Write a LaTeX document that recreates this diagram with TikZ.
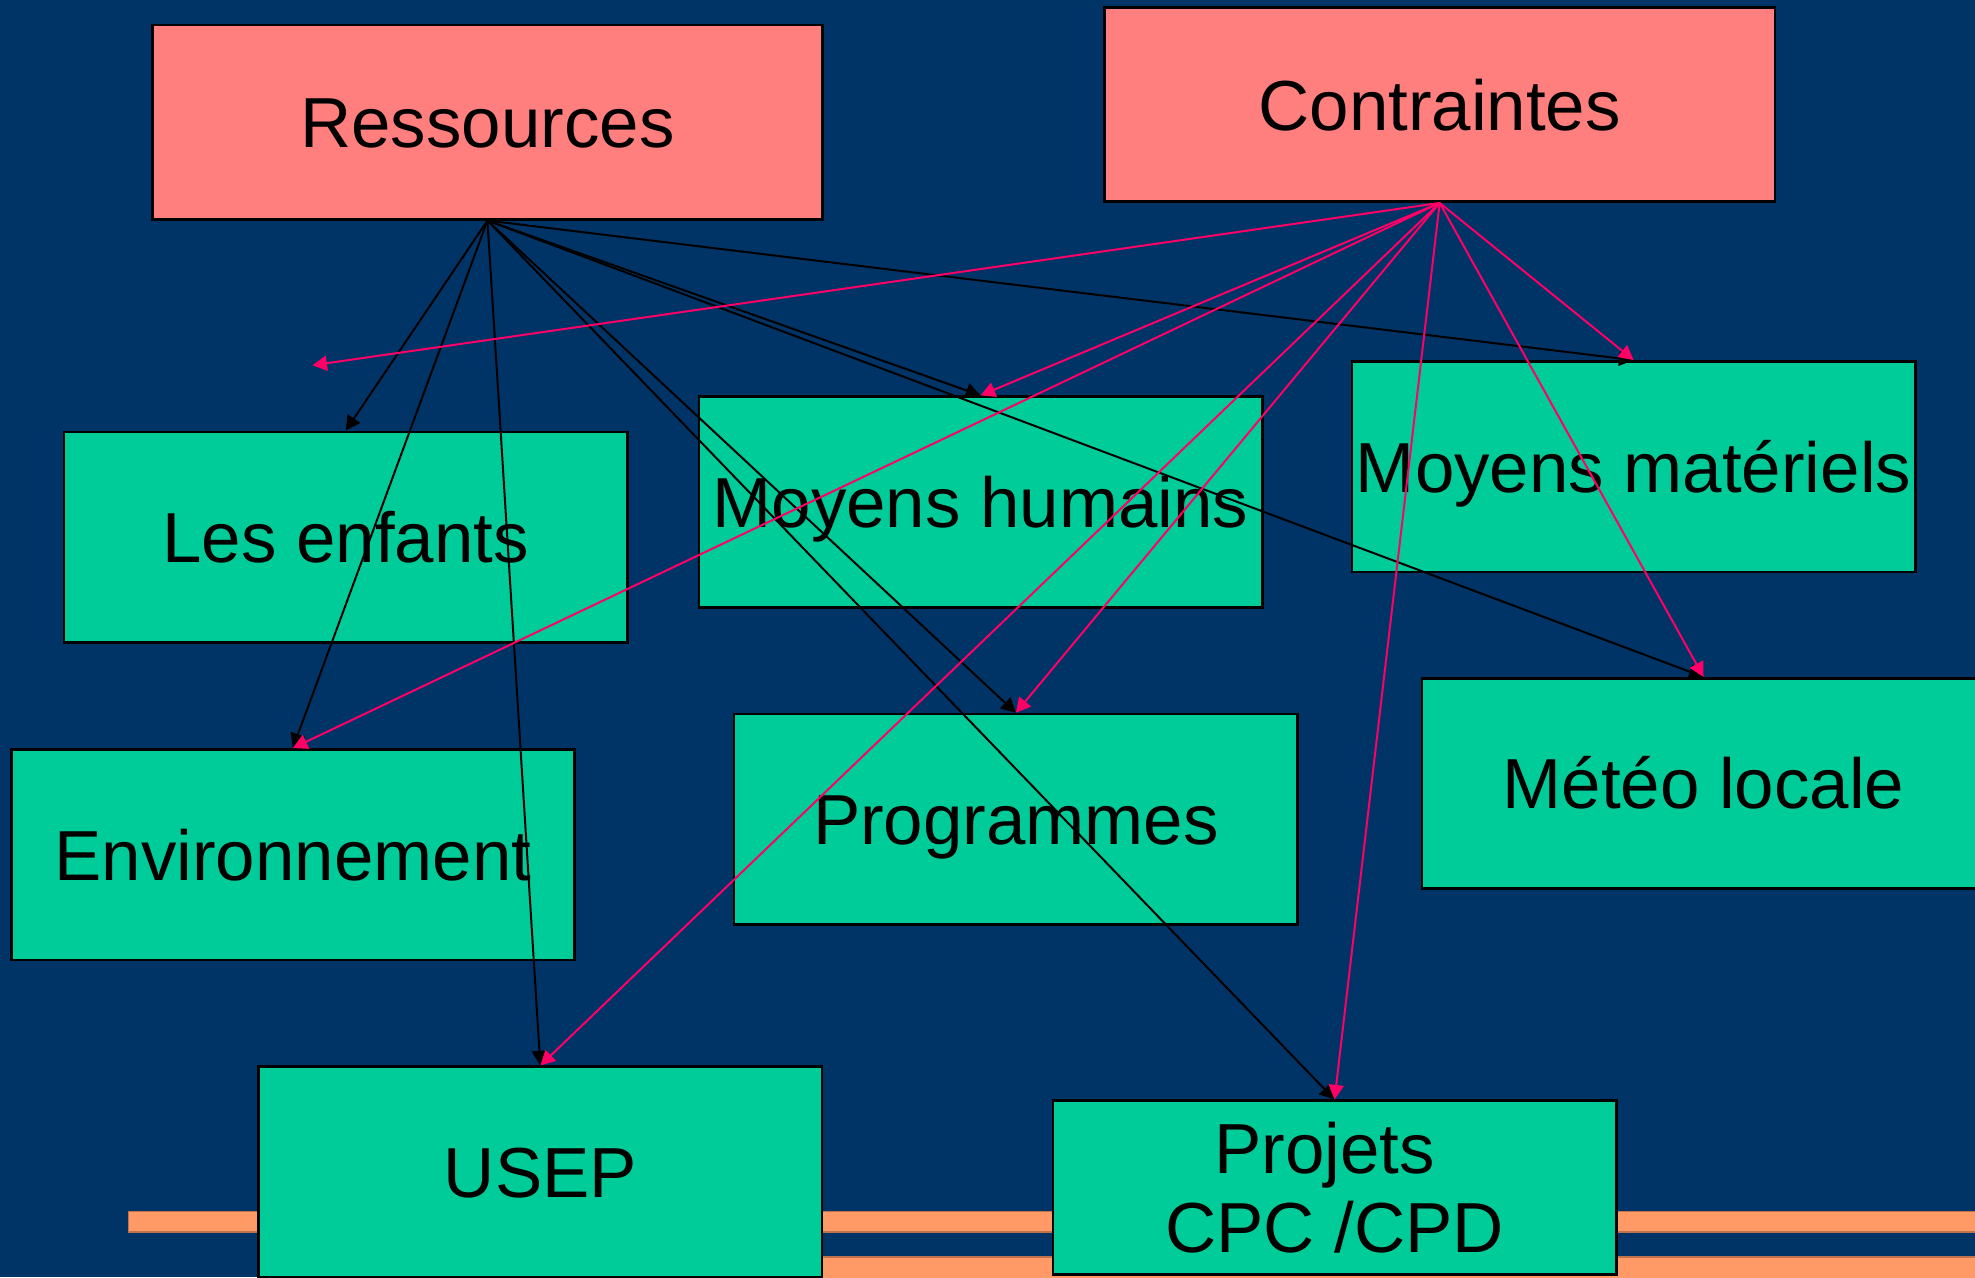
\documentclass[tikz,border=0pt]{standalone}
\usepackage{fontspec}
\setmainfont{Liberation Sans}
\usetikzlibrary{arrows.meta}
\definecolor{bgblue}{HTML}{003366}
\definecolor{boxpink}{HTML}{FF7F7F}
\definecolor{boxgreen}{HTML}{00CC99}
\definecolor{bandorange}{HTML}{FF9966}
\definecolor{arrowpink}{HTML}{FF0066}
\begin{document}
\begin{tikzpicture}[x=0.01cm,y=-0.01cm,
  boxfont/.style={font=\fontsize{16}{18}\selectfont},
  box/.style={draw=black, line width=0.6pt, minimum width=4.47cm, minimum height=1.67cm,
    inner sep=0pt, boxfont, text height=11.5pt, text depth=0pt, anchor=center},
  topbox/.style={box, fill=boxpink, minimum width=5.32cm, minimum height=1.54cm},
  greenbox/.style={box, fill=boxgreen},
  resarrow/.style={-{Triangle[length=3.3pt,width=3.4pt]}, line width=0.45pt, draw=black},
  conarrow/.style={resarrow, draw=arrowpink, fill=arrowpink},
  band/.style={fill=bandorange, draw=bandorange!75!black, line width=0.3pt}]
\useasboundingbox (0,0) rectangle (1568,1014);
\clip (0,0) rectangle (1568,1014);
\fill[bgblue] (0,0) rectangle (1568,1014);
% orange bands
\path[band] (102,962) rectangle (1600,978);
\path[band] (300,998) rectangle (1600,1030);
% boxes
\node[topbox] (res) at (387,97) {Ressources};
\node[topbox] (con) at (1143,83) {Contraintes};
\node[greenbox] (enf) at (274.5,426.5) {Les enfants};
\node[greenbox] (hum) at (778.5,398.5) {Moyens humains};
\node[greenbox] (mat) at (1297,370.5) {Moyens matériels};
\node[greenbox] (env) at (232.5,678.5) {Environnement};
\node[greenbox] (prog) at (806.5,650.5) {Programmes};
\node[greenbox] (meteo) at (1352.5,622) {Météo locale};
\node[greenbox] (usep) at (429,930.5) {USEP};
\node[greenbox, minimum height=1.38cm] (proj) at (1059.5,943) {};
\node[boxfont, inner sep=0pt, align=center, anchor=center] (projtext) at (proj.center) {Projets\kern0.28em\\CPC /CPD};
\coordinate (free) at (248,290);
% black arrows from Ressources
\draw[resarrow] (res.south) -- (enf.north);
\draw[resarrow] (res.south) -- (env.north);
\draw[resarrow] (res.south) -- (usep.north);
\draw[resarrow] (res.south) -- (prog.north);
\draw[resarrow] (res.south) -- (proj.north);
\draw[resarrow] (res.south) -- (hum.north);
\draw[resarrow] (res.south) -- (meteo.north);
\draw[resarrow] (res.south) -- (mat.north);
% pink arrows from Contraintes
\draw[conarrow] (con.south) -- (free);
\draw[conarrow] (con.south) -- (hum.north);
\draw[conarrow] (con.south) -- (env.north);
\draw[conarrow] (con.south) -- (usep.north);
\draw[conarrow] (con.south) -- (prog.north);
\draw[conarrow] (con.south) -- (proj.north);
\draw[conarrow] (con.south) -- (meteo.north);
\draw[conarrow] (con.south) -- (mat.north);
\end{tikzpicture}
\end{document}
